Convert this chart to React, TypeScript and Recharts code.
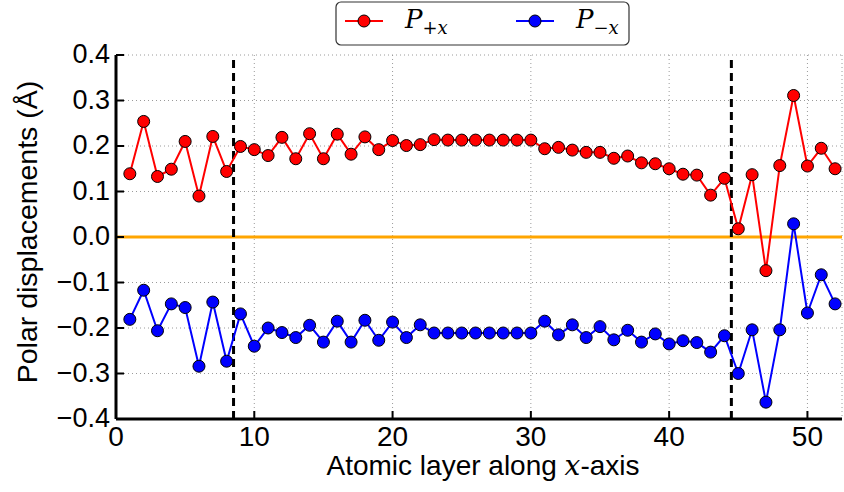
import { LineChart, Line, XAxis, YAxis, CartesianGrid, ReferenceLine, Legend } from 'recharts'

// atomic layers along x
const layers = [
  1, 2, 3, 4, 5, 6, 7, 8, 9, 10, 11, 12, 13, 14, 15, 16, 17, 18, 19, 20, 21, 22, 23, 24, 25, 26,
  27, 28, 29, 30, 31, 32, 33, 34, 35, 36, 37, 38, 39, 40, 41, 42, 43, 44, 45, 46, 47, 48, 49, 50, 51, 52,
]

// polar displacements (Å)
const pPlusX = [
  0.139, 0.254, 0.133, 0.149, 0.21, 0.09, 0.221, 0.144, 0.199, 0.192, 0.179, 0.219, 0.172, 0.227,
  0.172, 0.226, 0.182, 0.22, 0.192, 0.212, 0.201, 0.203, 0.214, 0.213, 0.213, 0.213, 0.213, 0.213,
  0.213, 0.213, 0.194, 0.197, 0.191, 0.186, 0.186, 0.173, 0.178, 0.163, 0.161, 0.15, 0.138, 0.136,
  0.092, 0.129, 0.018, 0.137, -0.074, 0.157, 0.311, 0.156, 0.195, 0.15,
]
const pMinusX = [
  -0.181, -0.117, -0.206, -0.147, -0.155, -0.284, -0.143, -0.273, -0.169, -0.24, -0.2, -0.21, -0.221,
  -0.194, -0.231, -0.185, -0.231, -0.183, -0.227, -0.187, -0.221, -0.193, -0.211, -0.211, -0.211,
  -0.211, -0.211, -0.211, -0.211, -0.211, -0.185, -0.215, -0.193, -0.221, -0.197, -0.226, -0.205,
  -0.231, -0.213, -0.235, -0.228, -0.232, -0.253, -0.217, -0.3, -0.204, -0.363, -0.204, 0.029,
  -0.167, -0.083, -0.147,
]

const xTicks = [0, 10, 20, 30, 40, 50]
const yTicks = [-0.4, -0.3, -0.2, -0.1, 0, 0.1, 0.2, 0.3, 0.4]
const interfaces = [8.5, 44.5]

const data = layers.map((layer, i) => ({ layer, plus: pPlusX[i], minus: pMinusX[i] }))

const FONT = '"Liberation Sans", Arial, sans-serif'
const MATH = '"DejaVu Serif", "Liberation Serif", serif'
const TICK = 8
const fmtY = (v: number) => v.toFixed(1).replace('-', '\u2212')

const BottomTick = ({ x, y, payload }: any) => (
  <g>
    <line x1={x} x2={x} y1={y} y2={y - TICK} stroke="#000" strokeWidth={2} />
    <text x={x} y={y + 27} textAnchor="middle" fontSize={28} fontFamily={FONT} fill="#000">
      {payload.value}
    </text>
  </g>
)
const TopTick = ({ x, y }: any) => (
  <line x1={x} x2={x} y1={y} y2={y + TICK} stroke="#000" strokeWidth={2} />
)
const LeftTick = ({ x, y, payload }: any) => (
  <g>
    <line x1={x} x2={x + TICK} y1={y} y2={y} stroke="#000" strokeWidth={2} />
    <text x={x - 6} y={y + 8} textAnchor="end" fontSize={27} fontFamily={FONT} fill="#000">
      {fmtY(payload.value)}
    </text>
  </g>
)
const RightTick = ({ x, y }: any) => (
  <line x1={x} x2={x - TICK} y1={y} y2={y} stroke="#000" strokeWidth={2} />
)

const XTitle = ({ viewBox }: any) => (
  <text
    x={viewBox.x + viewBox.width / 2 + 4}
    y={viewBox.y + 56}
    textAnchor="middle"
    fontSize={28}
    fontFamily={FONT}
    fill="#000"
  >
    Atomic layer along <tspan fontFamily={MATH} fontStyle="italic">x</tspan>-axis
  </text>
)
const YTitle = ({ viewBox }: any) => {
  const cy = viewBox.y + viewBox.height / 2 - 5
  return (
    <text
      x={37}
      y={cy}
      transform={`rotate(-90, 37, ${cy})`}
      textAnchor="middle"
      fontSize={28.5}
      fontFamily={FONT}
      fill="#000"
    >
      Polar displacements (Å)
    </text>
  )
}

const LegendBox = ({ payload }: any) => (
  <svg width={296} height={46} style={{ display: 'block' }}>
    <rect x={1} y={1} width={293} height={43} rx={5} fill="#fff" stroke="#333" strokeWidth={1.2} />
    {(payload || []).map((e: any, i: number) => {
      const x0 = 10 + i * 171
      return (
        <g key={e.value}>
          <line x1={x0} x2={x0 + 38} y1={20} y2={20} stroke={e.color} strokeWidth={2} />
          <circle cx={x0 + 19} cy={20} r={6} fill={e.color} stroke="#000" strokeWidth={1} />
          <text x={x0 + 60} y={27} fontSize={26} fontFamily={MATH} fontStyle="italic" fill="#000">
            {e.value.slice(0, 1)}
            <tspan dy={6} fontSize={18}>
              <tspan fontStyle="normal">{e.value.slice(1, 2)}</tspan>
              {e.value.slice(2)}
            </tspan>
          </text>
        </g>
      )
    })}
  </svg>
)

export default function App() {
  return (
    <div style={{ position: 'absolute', left: 0, top: 0, background: '#fff' }}>
      <LineChart width={844} height={492} data={data} margin={{ top: 55, right: 2, bottom: 0, left: 0 }}>
        <CartesianGrid stroke="#9a9a9a" strokeDasharray="1 3" strokeWidth={1} />
        <XAxis
          dataKey="layer"
          type="number"
          domain={[0, 52.5]}
          ticks={xTicks}
          interval={0}
          allowDataOverflow
          height={73}
          tickSize={0}
          tickMargin={0}
          tickLine={false}
          axisLine={{ stroke: '#000', strokeWidth: 3 }}
          tick={<BottomTick />}
          label={<XTitle />}
        />
        <XAxis
          xAxisId="top"
          orientation="top"
          type="number"
          domain={[0, 52.5]}
          ticks={xTicks}
          interval={0}
          allowDataOverflow
          height={0}
          tickSize={0}
          tickMargin={0}
          tickLine={false}
          axisLine={{ stroke: '#000', strokeWidth: 3 }}
          tick={<TopTick />}
        />
        <YAxis
          type="number"
          domain={[-0.4, 0.4]}
          ticks={yTicks}
          interval={0}
          allowDataOverflow
          width={116}
          tickSize={0}
          tickMargin={0}
          tickLine={false}
          axisLine={{ stroke: '#000', strokeWidth: 3 }}
          tick={<LeftTick />}
          label={<YTitle />}
        />
        <YAxis
          yAxisId="right"
          orientation="right"
          type="number"
          domain={[-0.4, 0.4]}
          ticks={yTicks}
          interval={0}
          allowDataOverflow
          width={0}
          tickSize={0}
          tickMargin={0}
          tickLine={false}
          axisLine={{ stroke: '#000', strokeWidth: 3 }}
          tick={<RightTick />}
        />
        <ReferenceLine y={0} stroke="#ffa500" strokeWidth={3} />
        {interfaces.map((v) => (
          <ReferenceLine key={v} x={v} stroke="#000" strokeWidth={3} strokeDasharray="8 5" />
        ))}
        <Legend
          layout="vertical"
          verticalAlign="middle"
          align="center"
          content={<LegendBox />}
          wrapperStyle={{ left: 335, top: 1, width: 296, height: 46 }}
        />
        <Line
          dataKey="plus"
          name="P+x"
          stroke="#ff0000"
          strokeWidth={2}
          dot={{ r: 6, fill: '#ff0000', stroke: '#000', strokeWidth: 1 }}
          activeDot={false}
          isAnimationActive={false}
        />
        <Line
          dataKey="minus"
          name={'P\u2212x'}
          stroke="#0000ff"
          strokeWidth={2}
          dot={{ r: 6, fill: '#0000ff', stroke: '#000', strokeWidth: 1 }}
          activeDot={false}
          isAnimationActive={false}
        />
      </LineChart>
    </div>
  )
}
